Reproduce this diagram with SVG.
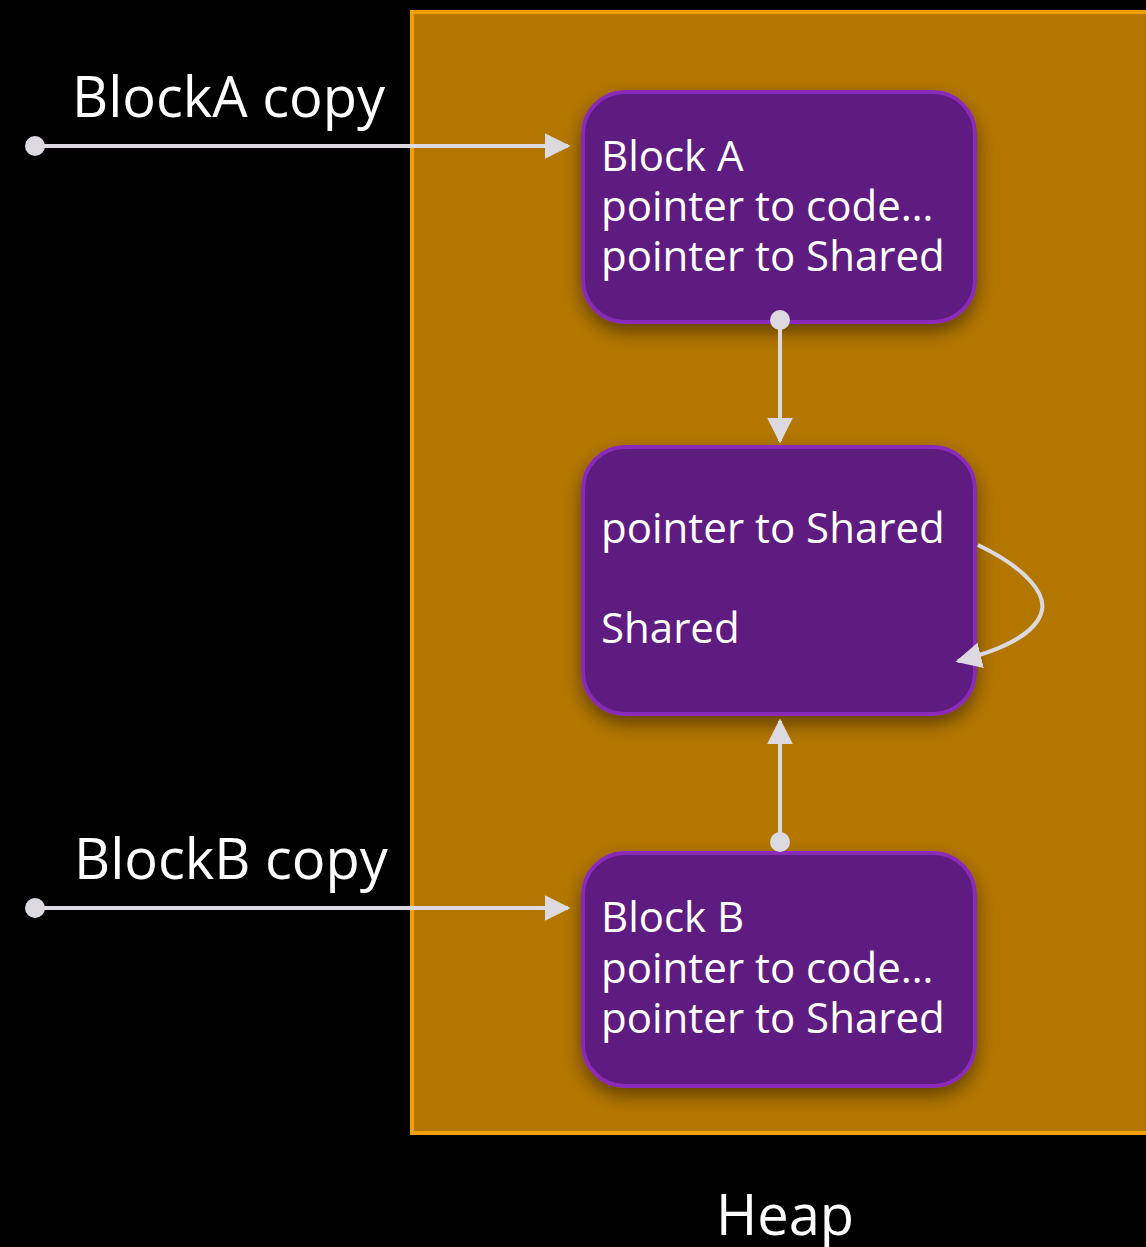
<svg xmlns="http://www.w3.org/2000/svg" width="1146" height="1247" viewBox="0 0 1146 1247">
<style>
.node{fill:#5F1A80;stroke:#8A2BBA;stroke-width:4}
.t{font-family:"Open Sans","Noto Sans",sans-serif;fill:#ffffff;font-size:42px}
.lbl{font-family:"Open Sans","Noto Sans",sans-serif;fill:#ffffff;font-size:56px}
.c{fill:none;stroke:#DCDAE0;stroke-width:4}
.dot{fill:#DCDAE0}
</style>
<defs>
<marker id="ah" viewBox="0 0 10 10" refX="9" refY="5" markerWidth="6.5" markerHeight="6.5" markerUnits="strokeWidth" orient="auto">
<path d="M0,0 L10,5 L0,10 Z" fill="#DCDAE0"/>
</marker>
<filter id="sh" x="-20%" y="-20%" width="140%" height="150%">
<feDropShadow dx="0" dy="8" stdDeviation="9" flood-color="#000" flood-opacity="0.45"/>
</filter>
</defs>
<rect x="0" y="0" width="1146" height="1247" fill="#000"/>
<g id="heap">
<rect x="412" y="12" width="740" height="1121" fill="#B37700" stroke="#F0A000" stroke-width="4"/>
<text class="lbl" x="785" y="1235" text-anchor="middle">Heap</text>
</g>
<g id="blockA">
<rect class="node" x="583" y="92" width="392" height="230" rx="42" filter="url(#sh)"/>
<text class="t" x="601" y="171">Block A</text>
<text class="t" x="601" y="221">pointer to code…</text>
<text class="t" x="601" y="271">pointer to Shared</text>
</g>
<g id="shared">
<rect class="node" x="583" y="447" width="392" height="267" rx="42" filter="url(#sh)"/>
<text class="t" x="601" y="543">pointer to Shared</text>
<text class="t" x="601" y="643">Shared</text>
</g>
<g id="blockB">
<rect class="node" x="583" y="853" width="392" height="233" rx="42" filter="url(#sh)"/>
<text class="t" x="601" y="932">Block B</text>
<text class="t" x="601" y="983">pointer to code…</text>
<text class="t" x="601" y="1033">pointer to Shared</text>
</g>
<g id="labelA"><text class="lbl" x="72" y="117">BlockA copy</text></g>
<g id="labelB"><text class="lbl" x="74" y="879">BlockB copy</text></g>
<g id="connectors">
<circle class="dot" cx="35" cy="146" r="10"/>
<line class="c" x1="35" y1="146" x2="568" y2="146" marker-end="url(#ah)"/>
<circle class="dot" cx="35" cy="908" r="10"/>
<line class="c" x1="35" y1="908" x2="568" y2="908" marker-end="url(#ah)"/>
<circle class="dot" cx="780" cy="320" r="10"/>
<line class="c" x1="780" y1="320" x2="780" y2="441" marker-end="url(#ah)"/>
<circle class="dot" cx="780" cy="842" r="10"/>
<line class="c" x1="780" y1="842" x2="780" y2="721" marker-end="url(#ah)"/>
<path class="c" d="M978,545 C1030,570 1045,595 1042,610 C1038,630 1010,648 958,661" marker-end="url(#ah)"/>
</g>
</svg>
